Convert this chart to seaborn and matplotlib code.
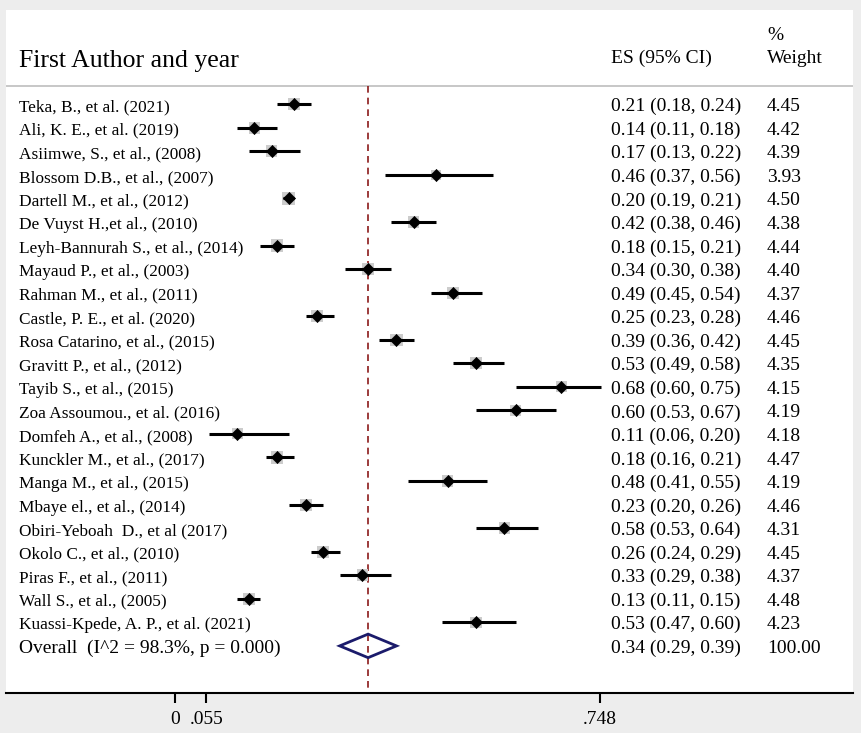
import matplotlib
matplotlib.use("Agg")
import matplotlib.pyplot as plt
import seaborn as sns
import pandas as pd

authors = [
    "Teka, B., et al. (2021)",
    "Ali, K. E., et al. (2019)",
    "Asiimwe, S., et al., (2008)",
    "Blossom D.B., et al., (2007)",
    "Dartell M., et al., (2012)",
    "De Vuyst H.,et al., (2010)",
    "Leyh-Bannurah S., et al., (2014)",
    "Mayaud P., et al., (2003)",
    "Rahman M., et al., (2011)",
    "Castle, P. E., et al. (2020)",
    "Rosa Catarino, et al., (2015)",
    "Gravitt P., et al., (2012)",
    "Tayib S., et al., (2015)",
    "Zoa Assoumou., et al. (2016)",
    "Domfeh A., et al., (2008)",
    "Kunckler M., et al., (2017)",
    "Manga M., et al., (2015)",
    "Mbaye el., et al., (2014)",
    "Obiri-Yeboah  D., et al (2017)",
    "Okolo C., et al., (2010)",
    "Piras F., et al., (2011)",
    "Wall S., et al., (2005)",
    "Kuassi-Kpede, A. P., et al. (2021)",
]
es = [0.21, 0.14, 0.17, 0.46, 0.20, 0.42, 0.18, 0.34, 0.49, 0.25, 0.39, 0.53,
      0.68, 0.60, 0.11, 0.18, 0.48, 0.23, 0.58, 0.26, 0.33, 0.13, 0.53]
lo = [0.18, 0.11, 0.13, 0.37, 0.19, 0.38, 0.15, 0.30, 0.45, 0.23, 0.36, 0.49,
      0.60, 0.53, 0.06, 0.16, 0.41, 0.20, 0.53, 0.24, 0.29, 0.11, 0.47]
hi = [0.24, 0.18, 0.22, 0.56, 0.21, 0.46, 0.21, 0.38, 0.54, 0.28, 0.42, 0.58,
      0.75, 0.67, 0.20, 0.21, 0.55, 0.26, 0.64, 0.29, 0.38, 0.15, 0.60]
weights = [4.45, 4.42, 4.39, 3.93, 4.50, 4.38, 4.44, 4.40, 4.37, 4.46, 4.45, 4.35,
           4.15, 4.19, 4.18, 4.47, 4.19, 4.46, 4.31, 4.45, 4.37, 4.48, 4.23]

overall_label = "Overall  (I^2 = 98.3%, p = 0.000)"
overall_es, overall_lo, overall_hi, overall_w = 0.34, 0.29, 0.39, 100.00

xtick_values = [0, 0.055, 0.748]
xtick_labels = ["0", ".055", ".748"]

sns.set_theme(style="white")
plt.rcParams['font.family'] = ['Liberation Serif', 'DejaVu Serif']

df = pd.DataFrame({"author": authors, "es": es, "lo": lo, "hi": hi, "w": weights})
df["row"] = range(len(df))
overall_row = len(df)

fig = plt.figure(figsize=(8.61, 7.33), dpi=100, facecolor="#ededed")
ax = fig.add_axes([6/861, 40/733, 847/861, 683/733])
ax.set_facecolor("white")
ax.set_xlim(-0.2975, 1.1937)
ax.set_ylim(25.0, -4.0)

# header separator
sep_y = -0.764
ax.axhline(sep_y, color="#bdbdbd", lw=1.2)

# overall dashed line
ax.vlines(overall_es, sep_y, 25.0, color="#8b1a1a", lw=1.2, linestyles=(0, (4, 3)))

# weight squares
sns.scatterplot(data=df, x="es", y="row", size="w", sizes=(50, 78), size_norm=(3.9, 4.5),
                marker="s", color="#cccccc", edgecolor="none", legend=False, ax=ax, zorder=2)
# CI lines
ax.hlines(df["row"], df["lo"], df["hi"], color="black", lw=2.2, zorder=3)
# point estimate diamonds
sns.scatterplot(data=df, x="es", y="row", marker="D", color="black", s=38,
                edgecolor="black", legend=False, ax=ax, zorder=4)

# overall diamond
ax.fill([overall_lo, overall_es, overall_hi, overall_es, overall_lo],
        [overall_row, overall_row - 0.5, overall_row, overall_row + 0.5, overall_row],
        facecolor="none", edgecolor="#1b1b6b", lw=2, zorder=5)

trans = ax.get_yaxis_transform()
lab_x = 13/847
es_x = 605/847
w_x = 761/847
boff = 0.30
for _, r in df.iterrows():
    ax.text(lab_x, r["row"] + boff, r["author"], transform=trans, fontsize=12.4,
            va="baseline", ha="left", color="black")
    ax.text(es_x, r["row"] + boff, f"{r['es']:.2f} ({r['lo']:.2f}, {r['hi']:.2f})",
            transform=trans, fontsize=14, va="baseline", ha="left", color="black")
    ax.text(w_x, r["row"] + boff, f"{r['w']:.2f}", transform=trans, fontsize=14,
            va="baseline", ha="left", color="black")

ax.text(lab_x, overall_row + boff, overall_label, transform=trans, fontsize=14,
        va="baseline", ha="left", color="black")
ax.text(es_x, overall_row + boff,
        f"{overall_es:.2f} ({overall_lo:.2f}, {overall_hi:.2f})",
        transform=trans, fontsize=14, va="baseline", ha="left", color="black")
ax.text(w_x, overall_row + boff, f"{overall_w:.2f}", transform=trans, fontsize=14,
        va="baseline", ha="left", color="black")

# headers
ax.text(lab_x, -1.57, "First Author and year", transform=trans, fontsize=18.5,
        va="baseline", color="black")
ax.text(es_x, -1.74, "ES (95% CI)", transform=trans, fontsize=14, va="baseline", color="black")
ax.text(w_x, -2.72, "%", transform=trans, fontsize=14, va="baseline", color="black")
ax.text(w_x, -1.74, "Weight", transform=trans, fontsize=14, va="baseline", color="black")

for s in ["top", "left", "right"]:
    ax.spines[s].set_visible(False)
ax.spines["bottom"].set_color("black")
ax.spines["bottom"].set_linewidth(1.5)
ax.set_yticks([])
ax.set_xticks(xtick_values)
ax.set_xticklabels(xtick_labels, fontsize=14, color="black")
ax.tick_params(axis="x", direction="out", length=7, width=1.5, color="black",
               pad=6, bottom=True)
ax.set_xlabel("")
ax.set_ylabel("")

fig.savefig("out.png", dpi=100, facecolor=fig.get_facecolor())
